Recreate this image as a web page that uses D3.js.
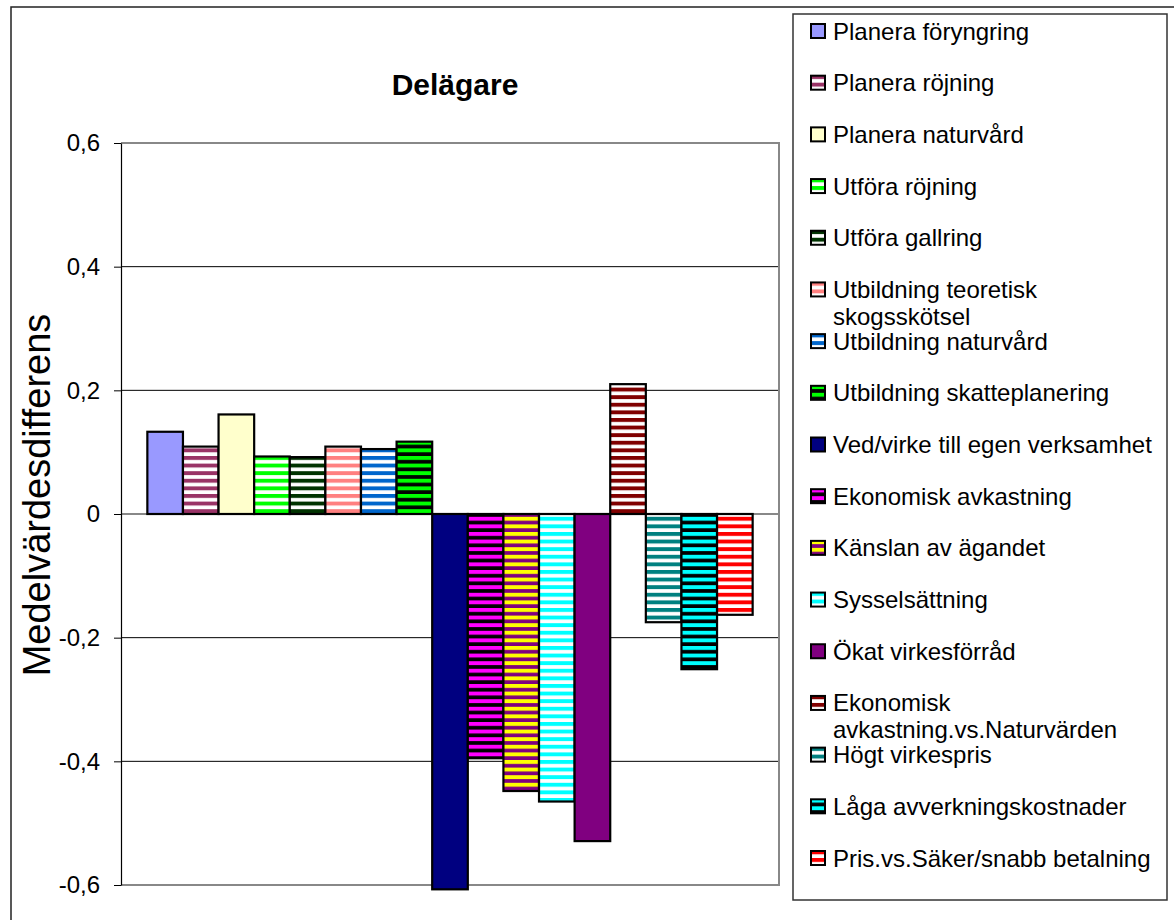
<!DOCTYPE html>
<html>
<head>
<meta charset="utf-8">
<script src="https://cdn.jsdelivr.net/npm/d3@7"></script>
<style>
  body { margin: 0; background: #fff; }
  text { font-family: "Liberation Sans", Arial, sans-serif; fill: #000; }
</style>
</head>
<body>
<svg id="chart" width="1174" height="920"></svg>
<script>
// data
const chartTitle = "Delägare";
const yLabel = "Medelvärdesdifferens";
const seriesNames = [
    "Planera föryngring", "Planera röjning", "Planera naturvård", "Utföra röjning",
    "Utföra gallring", "Utbildning teoretisk skogsskötsel", "Utbildning naturvård",
    "Utbildning skatteplanering", "Ved/virke till egen verksamhet", "Ekonomisk avkastning",
    "Känslan av ägandet", "Sysselsättning", "Ökat virkesförråd",
    "Ekonomisk avkastning.vs.Naturvärden", "Högt virkespris", "Låga avverkningskostnader",
    "Pris.vs.Säker/snabb betalning"
];
const seriesValues = [
    0.133, 0.109, 0.161, 0.093, 0.092, 0.109, 0.105, 0.117,
    -0.607, -0.395, -0.448, -0.465, -0.529, 0.21, -0.175, -0.251, -0.163
];
const yTicks = [-0.6, -0.4, -0.2, 0, 0.2, 0.4, 0.6];

// styles: main colour and stripe background (null = solid fill)
const fillColors = [
    "#9999FF", "#993366", "#FFFFCC", "#00FF00", "#003300", "#FF8080", "#0066CC", "#00FF00",
    "#000080", "#FF00FF", "#FFFF00", "#00FFFF", "#800080", "#800000", "#008080", "#00FFFF", "#FF0000"
];
const stripeColors = [
    null, "#FFFFFF", null, "#FFFFFF", "#FFFFFF", "#FFFFFF", "#FFFFFF", "#000000",
    null, "#000000", "#800080", "#FFFFFF", null, "#FFFFFF", "#FFFFFF", "#000000", "#FFFFFF"
];

const plot = {left: 121, top: 143, right: 779, bottom: 885};

let svg = d3.select("#chart");

// outer chart border
svg.append("rect")
    .attr("x", 11).attr("y", 7)
    .attr("width", 1200).attr("height", 1000)
    .attr("fill", "#fff")
    .attr("stroke", "#222")
    .attr("stroke-width", 1.5);

// stripe patterns
let defs = svg.append("defs");
fillColors.forEach(function (c, i) {
    if (!stripeColors[i]) return;
    let p = defs.append("pattern")
        .attr("id", "stripe" + i)
        .attr("patternUnits", "userSpaceOnUse")
        .attr("width", 8)
        .attr("height", 7.6);
    p.append("rect").attr("width", 8).attr("height", 7.6).attr("fill", stripeColors[i]);
    p.append("rect").attr("width", 8).attr("height", 3.9).attr("fill", c);
});

let y = d3.scaleLinear()
    .domain([-0.6, 0.6])
    .range([plot.bottom, plot.top]);

let x = d3.scaleBand()
    .domain(seriesNames)
    .range([plot.left, plot.right])
    .paddingInner(0)
    .paddingOuter(0.74);

let locale = d3.formatLocale({decimal: ",", thousands: " ", grouping: [3], currency: ["", " kr"], minus: "-"});
let fmt = locale.format("~g");

// gridlines
svg.append("g")
    .selectAll("line")
    .data(yTicks.filter(t => t !== 0 && Math.abs(t) !== 0.6))
    .join("line")
    .attr("x1", plot.left).attr("x2", plot.right)
    .attr("y1", d => y(d)).attr("y2", d => y(d))
    .attr("stroke", "#000")
    .attr("stroke-width", 1);

// plot area border (gray)
svg.append("path")
    .attr("d", `M${plot.left},${plot.top}H${plot.right}V${plot.bottom}H${plot.left}`)
    .attr("fill", "none")
    .attr("stroke", "#888")
    .attr("stroke-width", 2);

// zero line
svg.append("line")
    .attr("x1", plot.left).attr("x2", plot.right)
    .attr("y1", y(0)).attr("y2", y(0))
    .attr("stroke", "#888")
    .attr("stroke-width", 2);

// bars
svg.append("g")
    .selectAll("rect")
    .data(seriesNames)
    .join("rect")
    .attr("x", d => x(d))
    .attr("width", x.bandwidth())
    .attr("y", (d, i) => Math.min(y(seriesValues[i]), y(0)))
    .attr("height", (d, i) => Math.abs(y(seriesValues[i]) - y(0)))
    .attr("fill", (d, i) => stripeColors[i] ? `url(#stripe${i})` : fillColors[i])
    .attr("stroke", "#000")
    .attr("stroke-width", 2.2);

// y axis
let yAxis = svg.append("g")
    .attr("transform", `translate(${plot.left},0)`)
    .call(d3.axisLeft(y).tickValues(yTicks).tickSize(7).tickSizeOuter(0).tickPadding(14)
        .tickFormat(d => fmt(d)));
yAxis.select(".domain").attr("stroke", "#000").attr("stroke-width", 1.2);
yAxis.selectAll(".tick line").attr("stroke", "#000");
yAxis.selectAll(".tick text")
    .style("font-family", "'Liberation Sans', Arial, sans-serif")
    .style("font-size", "24px")
    .attr("fill", "#000");

// y axis title
svg.append("text")
    .attr("transform", "translate(50, 495) rotate(-90)")
    .attr("text-anchor", "middle")
    .style("font-size", "38px")
    .text(yLabel);

// chart title
svg.append("text")
    .attr("x", 455)
    .attr("y", 95)
    .attr("text-anchor", "middle")
    .style("font-size", "30px")
    .style("font-weight", "bold")
    .text(chartTitle);

// legend
svg.append("rect")
    .attr("x", 793).attr("y", 14)
    .attr("width", 374).attr("height", 886)
    .attr("fill", "#fff")
    .attr("stroke", "#333")
    .attr("stroke-width", 1.5);

let ly = d3.scalePoint()
    .domain(seriesNames)
    .range([31, 858]);

let items = svg.append("g")
    .selectAll("g")
    .data(seriesNames)
    .join("g")
    .attr("transform", d => `translate(810, ${ly(d)})`);

items.append("rect")
    .attr("x", 1).attr("y", -7)
    .attr("width", 14).attr("height", 14)
    .attr("fill", (d, i) => stripeColors[i] ? `url(#stripe${i})` : fillColors[i])
    .attr("stroke", "#000")
    .attr("stroke-width", 2);

items.append("text")
    .attr("x", 23)
    .attr("y", 8.5)
    .style("font-size", "24px")
    .each(function (d) {
        let t = d3.select(this);
        let words = d.split(" ");
        let line = [];
        let tspan = t.append("tspan").attr("x", 23).attr("dy", 0);
        words.forEach(function (w) {
            line.push(w);
            tspan.text(line.join(" "));
            if (tspan.node().getComputedTextLength() > 330 && line.length > 1) {
                line.pop();
                tspan.text(line.join(" "));
                line = [w];
                tspan = t.append("tspan").attr("x", 23).attr("dy", 27).text(w);
            }
        });
    });
</script>
</body>
</html>
